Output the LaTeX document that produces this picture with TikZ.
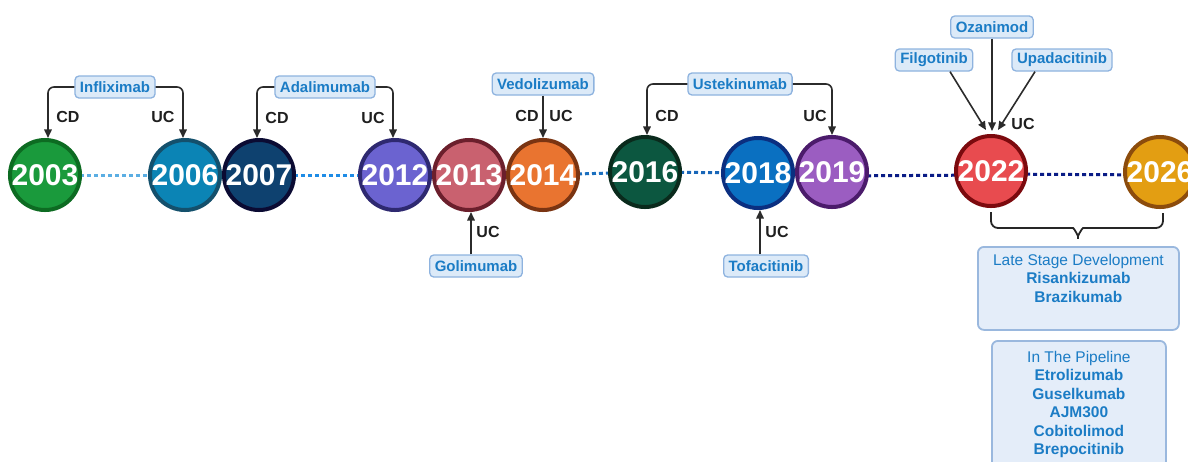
\documentclass[tikz,border=0pt]{standalone}
\usepackage{fontspec}
\setmainfont{Liberation Sans}
\usetikzlibrary{arrows.meta,backgrounds,calc}
\definecolor{f03}{HTML}{1A9A3C}\definecolor{d03}{HTML}{0D6B22}
\definecolor{f06}{HTML}{0B84B5}\definecolor{d06}{HTML}{14506C}
\definecolor{f07}{HTML}{0E416F}\definecolor{d07}{HTML}{0B0B33}
\definecolor{f12}{HTML}{6B63D0}\definecolor{d12}{HTML}{2E2970}
\definecolor{f13}{HTML}{C9616F}\definecolor{d13}{HTML}{6B1F2C}
\definecolor{f14}{HTML}{E97430}\definecolor{d14}{HTML}{7A3412}
\definecolor{f16}{HTML}{0C5740}\definecolor{d16}{HTML}{0A2A1C}
\definecolor{f18}{HTML}{0A70C1}\definecolor{d18}{HTML}{0B2F80}
\definecolor{f19}{HTML}{9B5DC1}\definecolor{d19}{HTML}{4B1B6B}
\definecolor{f22}{HTML}{E84B4F}\definecolor{d22}{HTML}{7C0A0E}
\definecolor{f26}{HTML}{E39E12}\definecolor{d26}{HTML}{8C4C0C}
\definecolor{labt}{HTML}{1B7CC5}
\definecolor{labf}{HTML}{DCEAF8}
\definecolor{labd}{HTML}{8EB3DF}
\definecolor{bigf}{HTML}{E4EDF9}
\definecolor{bigd}{HTML}{9AB8DE}
\definecolor{arrc}{HTML}{2B2B2B}
\definecolor{dotA}{HTML}{5BAEE3}
\definecolor{dotB}{HTML}{1E8CE6}
\definecolor{dotC}{HTML}{1A6FBF}
\definecolor{dotD}{HTML}{1866B8}
\definecolor{dotE}{HTML}{0A1C86}
\tikzset{
  yr/.style={circle, minimum size=70pt, inner sep=0pt, line width=4pt, text=white,
    font=\fontsize{30}{30}\selectfont\bfseries},
  lab/.style={draw=labd, fill=labf, line width=1.3pt, rounded corners=4pt, text=labt,
    font=\fontsize{15}{15}\selectfont\bfseries, inner xsep=5pt, inner ysep=2pt, minimum height=22pt},
  arr/.style={draw=arrc, line width=1.6pt, -{Triangle[length=8.5pt,width=7.5pt]}},
  lbl/.style={font=\fontsize{16}{16}\selectfont\bfseries, text=black!88, inner sep=0pt},
  dotl/.style={line width=3pt, dash pattern=on 4pt off 3pt},
  bigbox/.style={draw=bigd, fill=bigf, line width=1.8pt, rounded corners=6pt},
  bigtext/.style={align=center, text=labt, inner sep=0pt, anchor=north,
    font=\fontsize{15.5}{18.5}\selectfont},
  bracel/.style={draw=black!85, line width=1.8pt, rounded corners=7pt}
}
\begin{document}
\begin{tikzpicture}[x=1pt,y=-1pt]
\useasboundingbox (0,0) rectangle (1188,461);
% year circles
\node[yr, fill=f03, draw=d03] (y2003) at (45,175) {2003};
\node[yr, fill=f06, draw=d06] (y2006) at (185,175) {2006};
\node[yr, fill=f07, draw=d07] (y2007) at (259,175) {2007};
\node[yr, fill=f12, draw=d12] (y2012) at (395,175) {2012};
\node[yr, fill=f13, draw=d13] (y2013) at (469,175) {2013};
\node[yr, fill=f14, draw=d14] (y2014) at (543,175) {2014};
\node[yr, fill=f16, draw=d16] (y2016) at (645,172) {2016};
\node[yr, fill=f18, draw=d18] (y2018) at (758,173) {2018};
\node[yr, fill=f19, draw=d19] (y2019) at (832,172) {2019};
\node[yr, fill=f22, draw=d22] (y2022) at (991,171) {2022};
\node[yr, fill=f26, draw=d26] (y2026) at (1160,172) {2026};
% dotted timeline
\begin{scope}[on background layer]
\draw[dotl, draw=dotA] (y2003.center) -- (y2006.center);
\draw[dotl, draw=dotB] (y2007.center) -- (y2012.center);
\draw[dotl, draw=dotC] (y2014.center) -- (y2016.center);
\draw[dotl, draw=dotD] (y2016.center) -- (y2018.center);
\draw[dotl, draw=dotE] ([yshift=-4pt]y2019.center) -- ([yshift=-4pt]y2022.center);
\draw[dotl, draw=dotE] ([yshift=-3pt]y2022.center) -- ([yshift=-3pt]y2026.center);
\end{scope}
% drug labels
\node[lab] (inf) at (115,87) {Infliximab};
\node[lab] (ada) at (325,87) {Adalimumab};
\node[lab] (ved) at (543,84) {Vedolizumab};
\node[lab] (ust) at (740,84) {Ustekinumab};
\node[lab] (gol) at (476,266) {Golimumab};
\node[lab] (tof) at (766,266) {Tofacitinib};
\node[lab] (oza) at (992,27) {Ozanimod};
\node[lab] (fil) at (934,60) {Filgotinib};
\node[lab] (upa) at (1062,60) {Upadacitinib};
% connectors
\draw[arr, rounded corners=6pt] (inf.west) -| ([xshift=3pt]y2003.north);
\draw[arr, rounded corners=6pt] (inf.east) -| ([xshift=-2pt]y2006.north);
\draw[arr, rounded corners=6pt] (ada.west) -| ([xshift=-2pt]y2007.north);
\draw[arr, rounded corners=6pt] (ada.east) -| ([xshift=-2pt]y2012.north);
\draw[arr] (y2014.north |- ved.south) -- (y2014.north);
\draw[arr, rounded corners=6pt] (ust.west) -| ([xshift=2pt]y2016.north);
\draw[arr, rounded corners=6pt] (ust.east) -| (y2019.north);
\draw[arr] ([xshift=2pt]y2013.south |- gol.north) -- ([xshift=2pt]y2013.south);
\draw[arr] ([xshift=2pt]y2018.south |- tof.north) -- ([xshift=2pt]y2018.south);
\draw[arr] (oza.south) -- ([xshift=1pt,yshift=3pt]y2022.north);
\draw[arr] ([xshift=16pt]fil.south) -- ([xshift=-5pt,yshift=4pt]y2022.north);
\draw[arr] ([xshift=-27pt]upa.south) -- ([xshift=7pt,yshift=4pt]y2022.north);
% CD / UC labels
\node[lbl] (l1) at (68,117) {CD};
\node[lbl] (l2) at (163,117) {UC};
\node[lbl] (l3) at (277,118) {CD};
\node[lbl] (l4) at (373,118) {UC};
\node[lbl] (l5) at (527,116) {CD};
\node[lbl] (l6) at (561,116) {UC};
\node[lbl] (l7) at (667,116) {CD};
\node[lbl] (l8) at (815,116) {UC};
\node[lbl] (l9) at (488,232) {UC};
\node[lbl] (l10) at (777,232) {UC};
\node[lbl] (l11) at (1023,124) {UC};
% brace
\draw[bracel] ([yshift=-4pt]y2022.south) |- (1066,228) .. controls (1074,228) and (1078,236) .. (1078,243)
  .. controls (1078,236) and (1082,228) .. (1090,228) -| ([xshift=3pt,yshift=-4pt]y2026.south);
% boxes
\node[bigbox, minimum width=201pt, minimum height=83pt, anchor=north west] (late) at (977,246) {};
\node[bigtext] (latet) at ($(late.north)+(0,8)$) {Late Stage Development\\ \textbf{Risankizumab}\\ \textbf{Brazikumab}};
\node[bigbox, minimum width=174pt, minimum height=150pt, anchor=north west] (pipe) at (991,340) {};
\node[bigtext] (pipet) at ($(pipe.north)+(0,11)$) {In The Pipeline\\ \textbf{Etrolizumab}\\ \textbf{Guselkumab}\\ \textbf{AJM300}\\ \textbf{Cobitolimod}\\ \textbf{Brepocitinib}};
\end{tikzpicture}
\end{document}
